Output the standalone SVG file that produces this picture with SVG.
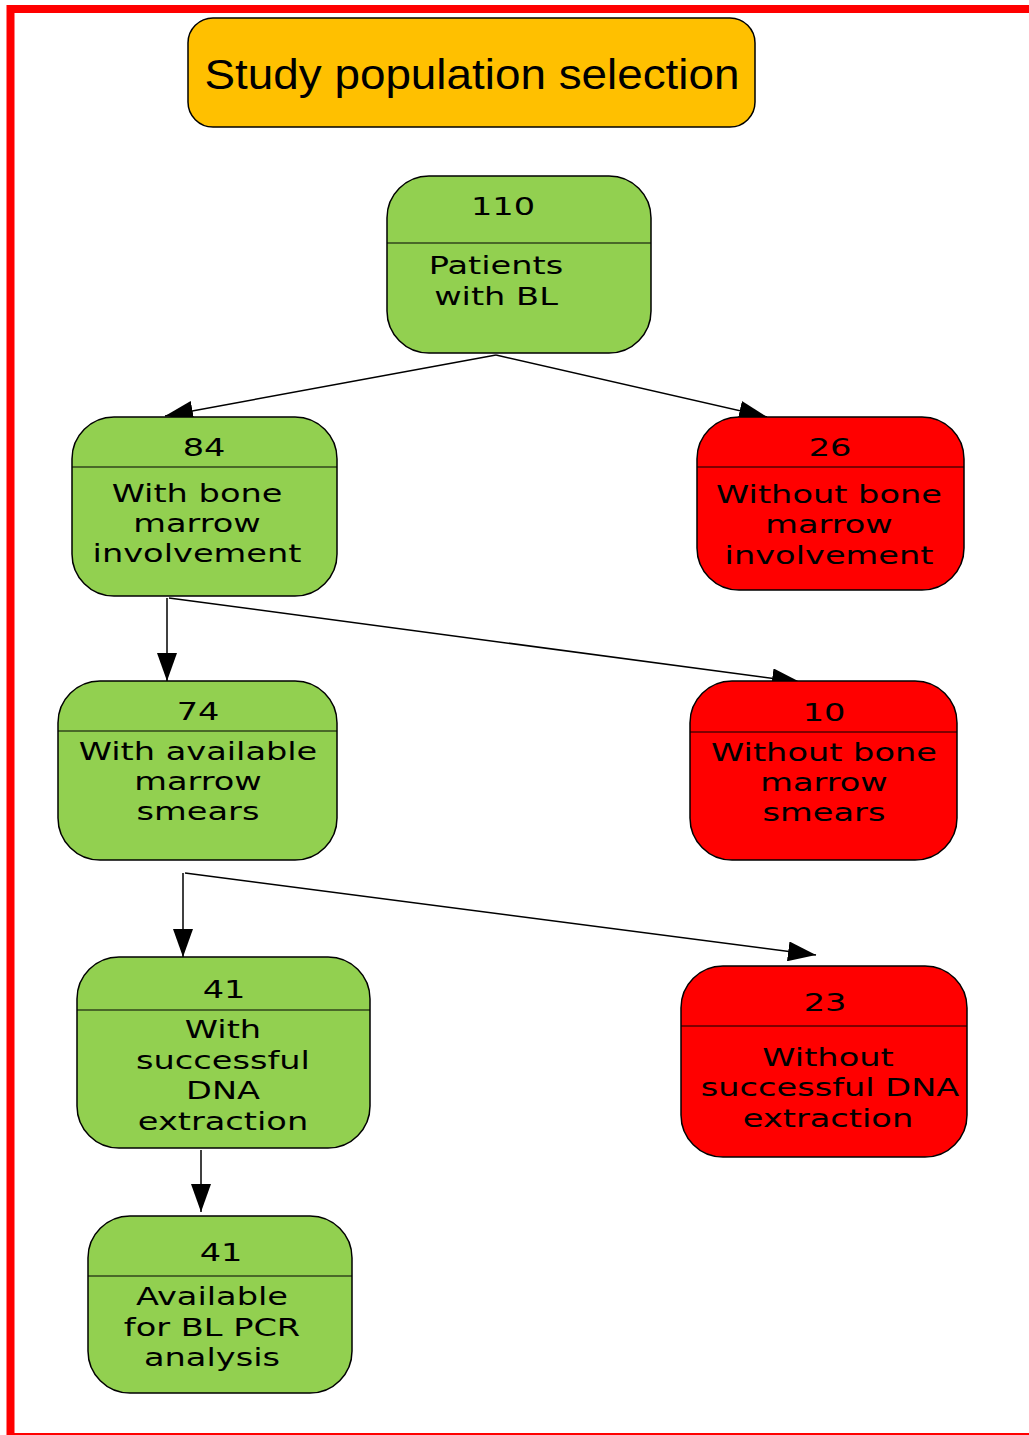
<svg xmlns="http://www.w3.org/2000/svg" width="1029" height="1435" viewBox="0 0 1029 1435">
<style>
.g{fill:#92D050;stroke:#000;stroke-width:1.5}
.r{fill:#FF0000;stroke:#000;stroke-width:1.5}
.d{stroke:#000;stroke-width:1}
.t{font-family:"DejaVu Sans",Verdana,sans-serif;font-size:24px;fill:#000;text-anchor:middle}
.c{stroke:#000;stroke-width:1.5;fill:none}
</style>
<defs>
<marker id="ah" markerUnits="userSpaceOnUse" markerWidth="28" markerHeight="20" refX="28" refY="10" orient="auto">
<path d="M0,0 L28,10 L0,20 z" fill="#000"/>
</marker>
</defs>
<rect x="0" y="0" width="1029" height="1435" fill="#fff"/>
<rect x="10.5" y="9" width="1040" height="1428" fill="none" stroke="#FF0000" stroke-width="8"/>

<g id="title">
<rect x="188" y="18" width="567" height="109" rx="25" fill="#FFC000" stroke="#000" stroke-width="1.5"/>
<text x="472" y="89" font-family="Liberation Sans, Arial, sans-serif" font-size="43" text-anchor="middle" textLength="535" lengthAdjust="spacingAndGlyphs">Study population selection</text>
</g>

<g id="connectors">
<line class="c" x1="496" y1="355" x2="165" y2="416" marker-end="url(#ah)"/>
<line class="c" x1="496" y1="355" x2="767" y2="417" marker-end="url(#ah)"/>
<line class="c" x1="167" y1="598" x2="167" y2="681" marker-end="url(#ah)"/>
<line class="c" x1="169" y1="598" x2="800" y2="682" marker-end="url(#ah)"/>
<line class="c" x1="183" y1="873" x2="183" y2="957" marker-end="url(#ah)"/>
<line class="c" x1="185" y1="873" x2="816" y2="955" marker-end="url(#ah)"/>
<line class="c" x1="201" y1="1150" x2="201" y2="1212" marker-end="url(#ah)"/>
</g>

<g id="n110">
<rect class="g" x="387" y="176" width="264" height="177" rx="42"/>
<line class="d" x1="387" y1="243" x2="651" y2="243"/>
<g class="t">
<text transform="translate(503,215) scale(1.4,1)">110</text>
<text transform="translate(496,274) scale(1.4,1)">Patients</text>
<text transform="translate(496,305) scale(1.4,1)">with BL</text>
</g>
</g>

<g id="n84">
<rect class="g" x="72" y="417" width="265" height="179" rx="42"/>
<line class="d" x1="72" y1="467" x2="337" y2="467"/>
<g class="t">
<text transform="translate(204,456) scale(1.4,1)">84</text>
<text transform="translate(197,502) scale(1.4,1)">With bone</text>
<text transform="translate(197,532) scale(1.4,1)">marrow</text>
<text transform="translate(197,562) scale(1.4,1)">involvement</text>
</g>
</g>

<g id="n26">
<rect class="r" x="697" y="417" width="267" height="173" rx="42"/>
<line class="d" x1="697" y1="467" x2="964" y2="467"/>
<g class="t">
<text transform="translate(830,456) scale(1.4,1)">26</text>
<text transform="translate(829,503) scale(1.4,1)">Without bone</text>
<text transform="translate(829,533) scale(1.4,1)">marrow</text>
<text transform="translate(829,564) scale(1.4,1)">involvement</text>
</g>
</g>

<g id="n74">
<rect class="g" x="58" y="681" width="279" height="179" rx="42"/>
<line class="d" x1="58" y1="731" x2="337" y2="731"/>
<g class="t">
<text transform="translate(198,720) scale(1.4,1)">74</text>
<text transform="translate(198,760) scale(1.4,1)">With available</text>
<text transform="translate(198,790) scale(1.4,1)">marrow</text>
<text transform="translate(198,820) scale(1.4,1)">smears</text>
</g>
</g>

<g id="n10">
<rect class="r" x="690" y="681" width="267" height="179" rx="42"/>
<line class="d" x1="690" y1="732" x2="957" y2="732"/>
<g class="t">
<text transform="translate(824,721) scale(1.4,1)">10</text>
<text transform="translate(824,761) scale(1.4,1)">Without bone</text>
<text transform="translate(824,791) scale(1.4,1)">marrow</text>
<text transform="translate(824,821) scale(1.4,1)">smears</text>
</g>
</g>

<g id="n41a">
<rect class="g" x="77" y="957" width="293" height="191" rx="42"/>
<line class="d" x1="77" y1="1010" x2="370" y2="1010"/>
<g class="t">
<text transform="translate(224,998) scale(1.4,1)">41</text>
<text transform="translate(223,1038) scale(1.4,1)">With</text>
<text transform="translate(223,1069) scale(1.4,1)">successful</text>
<text transform="translate(223,1099) scale(1.4,1)">DNA</text>
<text transform="translate(223,1130) scale(1.4,1)">extraction</text>
</g>
</g>

<g id="n23">
<rect class="r" x="681" y="966" width="286" height="191" rx="42"/>
<line class="d" x1="681" y1="1026" x2="967" y2="1026"/>
<g class="t">
<text transform="translate(825,1011) scale(1.4,1)">23</text>
<text transform="translate(828,1066) scale(1.4,1)">Without</text>
<text transform="translate(830,1096) scale(1.4,1)">successful DNA</text>
<text transform="translate(828,1127) scale(1.4,1)">extraction</text>
</g>
</g>

<g id="n41b">
<rect class="g" x="88" y="1216" width="264" height="177" rx="42"/>
<line class="d" x1="88" y1="1276" x2="352" y2="1276"/>
<g class="t">
<text transform="translate(221,1261) scale(1.4,1)">41</text>
<text transform="translate(212,1305) scale(1.4,1)">Available</text>
<text transform="translate(212,1336) scale(1.4,1)">for BL PCR</text>
<text transform="translate(212,1366) scale(1.4,1)">analysis</text>
</g>
</g>
</svg>
